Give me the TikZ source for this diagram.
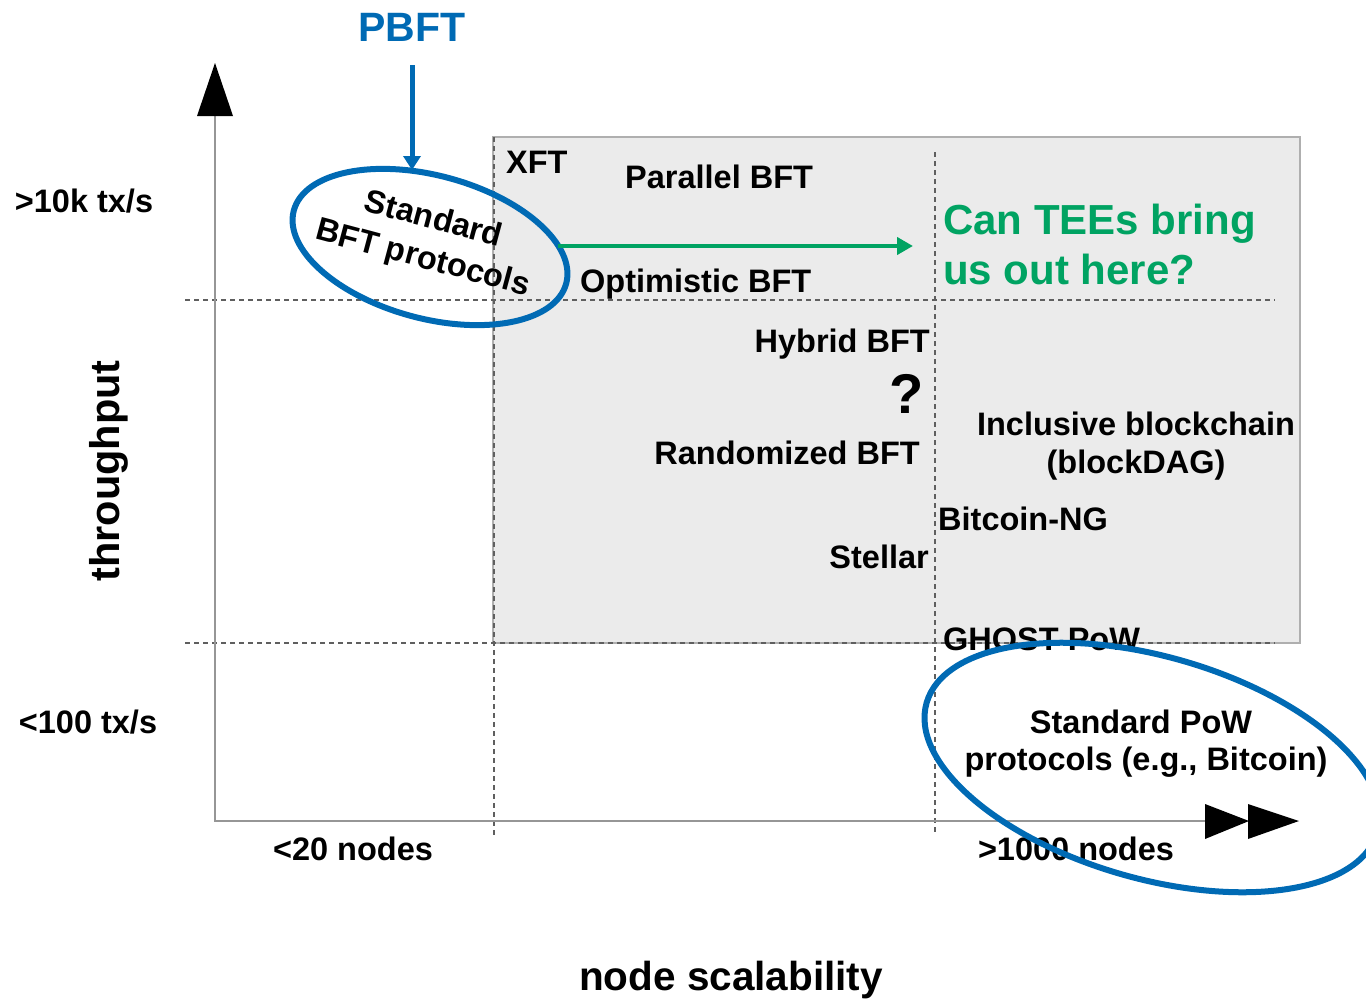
\documentclass[tikz,border=0pt]{standalone}
\usepackage{fontspec}
\setmainfont{Liberation Sans}
\usetikzlibrary{arrows.meta,shapes.geometric}
\definecolor{tblue}{RGB}{0,106,180}
\definecolor{tgreen}{RGB}{0,163,98}
\definecolor{boxgray}{RGB}{235,235,235}
\definecolor{boxedge}{RGB}{175,175,175}
\definecolor{dashgray}{RGB}{95,95,95}
\definecolor{axisgray}{RGB}{150,150,150}
\begin{document}
\begin{tikzpicture}[x=1pt,y=-1pt,
  lbl/.style={font=\bfseries\fontsize{32.5}{40}\selectfont, inner sep=0pt},
  big/.style={font=\bfseries\fontsize{40.5}{48}\selectfont, inner sep=0pt},
  tee/.style={font=\bfseries\fontsize{42}{50}\selectfont, inner sep=0pt, text=tgreen},
  qmark/.style={font=\bfseries\fontsize{56}{60}\selectfont, inner sep=0pt},
  gridline/.style={dashgray, dash pattern=on 5pt off 4pt, line width=1.4pt},
  axisline/.style={axisgray, line width=1.4pt},
  ring/.style={draw=tblue, line width=6pt, ellipse, inner sep=0pt},
  bluearrow/.style={tblue, line width=5pt, -{Triangle[length=14pt,width=17pt]}},
  greenarrow/.style={tgreen, line width=4.5pt, -{Triangle[length=16pt,width=17pt]}},
]
\useasboundingbox (0,0) rectangle (1366,1001);
\clip (0,0) rectangle (1366,1001);

% shaded region
\path[fill=boxgray, draw=boxedge, line width=1.2pt] (493,137) rectangle (1300,643);

% dashed grid
\draw[gridline] (185,300) -- (1275,300);
\draw[gridline] (185,643) -- (1275,643);
\draw[gridline] (494,137) -- (494,835);
\draw[gridline] (935,152) -- (935,835);

% axes
\coordinate (O) at (215,821);
\coordinate (Ytop) at (215,116);
\coordinate (Xend) at (1205,821);
\draw[axisline] (Ytop) -- (O) -- (Xend);
\fill[black] (197,116) -- (215,63) -- (233,116) -- cycle;
\fill[black] (1205,804) -- (1249,821) -- (1205,839) -- cycle;
\fill[black] (1248,804) -- (1299,821) -- (1248,839) -- cycle;

% axis labels
\node[big, text=tblue, font=\bfseries\fontsize{41}{48}\selectfont, anchor=base] (pbft) at (412,41) {PBFT};
\node[lbl, anchor=base] (ten) at (84,212) {>10k tx/s};
\node[lbl, anchor=base] (hun) at (88,733) {<100 tx/s};
\node[big, font=\bfseries\fontsize{41.5}{48}\selectfont, rotate=90] (thr) at (109,471) {throughput};
\node[lbl, anchor=base] (n20) at (353,860) {<20 nodes};
\node[lbl, anchor=base] (n1000) at (1076,860) {>1000 nodes};
\node[big, anchor=base] (ns) at (731,990) {node scalability};

% protocol labels
\node[lbl, anchor=base west] (xft) at (506,173) {XFT};
\node[lbl, anchor=base west] (par) at (625,188) {Parallel BFT};
\node[lbl, anchor=base west] (opt) at (580,292) {Optimistic BFT};
\node[tee, anchor=base west] (tee1) at (943,234) {Can TEEs bring};
\node[tee, anchor=base west] (tee2) at (943,284) {us out here?};
\node[lbl, anchor=base east] (hyb) at (930,352) {Hybrid BFT};
\node[qmark, anchor=base] (q) at (907,413) {?};
\node[lbl, anchor=base east] (rnd) at (920,464) {Randomized BFT};
\node[lbl, anchor=base] (inc1) at (1136,435) {Inclusive blockchain};
\node[lbl, anchor=base] (inc2) at (1136,473) {(blockDAG)};
\node[lbl, anchor=base west] (bng) at (938,530) {Bitcoin-NG};
\node[lbl, anchor=base east] (stl) at (929,568) {Stellar};
\node[lbl, anchor=base west] (gh) at (943,650) {GHOST PoW};
\node[lbl, anchor=base] (pow1) at (1141,733) {Standard PoW};
\node[lbl, anchor=base] (pow2) at (1146,770) {protocols (e.g., Bitcoin)};

% ellipses
\node[lbl, align=center, rotate=-15] (bftstd) at (428,240) {Standard\\BFT protocols};
\node[ring, minimum width=282pt, minimum height=143pt, rotate=-15] (ell1) at (430,247) {};
\node[ring, minimum width=469pt, minimum height=222pt, rotate=-16] (ell2) at (1152,767.5) {};

% arrows
\coordinate (pbfttip) at (412,170);
\draw[bluearrow, shorten <=24pt] (pbft.south) -- (pbfttip);
\coordinate (gstart) at (558,246);
\coordinate (gtip) at (913,246);
\draw[greenarrow] (gstart) -- (gtip);
\end{tikzpicture}
\end{document}
